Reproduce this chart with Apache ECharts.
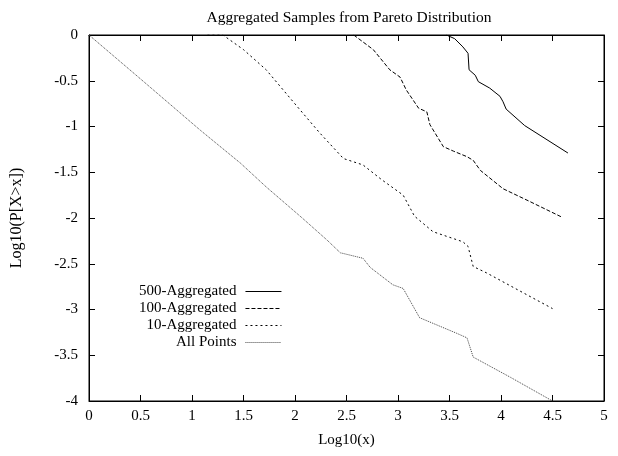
<!DOCTYPE html>
<html>
<head>
<meta charset="utf-8">
<script src="https://cdn.jsdelivr.net/npm/echarts@6/dist/echarts.min.js"></script>
<style>
  html, body { margin: 0; padding: 0; background: #fff; }
  #chart { width: 618px; height: 456px; }
</style>
</head>
<body>
<div id="chart"></div>
<script>
// Empirical tail distributions (log10 scale) of Pareto samples
const agg500X = [3.47, 3.55, 3.63, 3.68, 3.69, 3.75, 3.78, 3.89, 3.99, 4.02, 4.05, 4.23, 4.65];
const agg500Y = [0, -0.04, -0.13, -0.2, -0.38, -0.44, -0.51, -0.58, -0.67, -0.73, -0.81, -0.99, -1.29];

const agg100X = [2.57, 2.76, 2.92, 3.02, 3.08, 3.20, 3.28, 3.31, 3.44, 3.54, 3.67, 3.73, 3.80, 4.02, 4.28, 4.59];
const agg100Y = [0, -0.16, -0.38, -0.46, -0.60, -0.80, -0.84, -0.98, -1.22, -1.27, -1.33, -1.37, -1.48, -1.68, -1.82, -1.99];

const agg10X = [1.15, 1.30, 1.50, 1.72, 2.02, 2.24, 2.47, 2.66, 2.84, 3.05, 3.16, 3.34, 3.63, 3.68, 3.73, 3.86, 4.22, 4.5];
const agg10Y = [0, 0, -0.16, -0.38, -0.78, -1.07, -1.35, -1.42, -1.58, -1.75, -1.98, -2.15, -2.26, -2.31, -2.53, -2.60, -2.82, -2.99];

const allX = [0, 0.5, 1.08, 1.47, 1.72, 2.07, 2.31, 2.44, 2.66, 2.73, 2.95, 3.05, 3.21, 3.57, 3.67, 3.73, 4.09, 4.5];
const allY = [0, -0.48, -1.04, -1.40, -1.66, -2.0, -2.24, -2.38, -2.44, -2.54, -2.73, -2.77, -3.09, -3.26, -3.31, -3.52, -3.74, -4.0];

const seriesNames = ['500-Aggregated', '100-Aggregated', '10-Aggregated', 'All Points'];

const pairs = (xs, ys) => xs.map((x, i) => [x, ys[i]]);

const FONT = '"Liberation Serif", "DejaVu Serif", serif';

const lineStyles = [
  { color: '#000', width: 1, type: 'solid' },
  { color: '#000', width: 1, type: [4, 2] },
  { color: '#000', width: 1, type: [2, 3] },
  { color: '#444', width: 1, type: [1, 1] }
];

const datasets = [pairs(agg500X, agg500Y), pairs(agg100X, agg100Y), pairs(agg10X, agg10Y), pairs(allX, allY)];

const chart = echarts.init(document.getElementById('chart'), null, { renderer: 'canvas' });

const axisLineOpt = () => ({ show: true, onZero: false, lineStyle: { color: '#000', width: 1 } });
const tickOpt = () => ({ show: true, inside: true, length: 6, lineStyle: { color: '#000', width: 1 } });

chart.setOption({
  animation: false,
  backgroundColor: '#fff',
  title: {
    text: 'Aggregated Samples from Pareto Distribution',
    left: 344, textAlign: 'center', top: 5,
    textStyle: { fontFamily: FONT, fontSize: 15.5, fontWeight: 'normal', color: '#000' }
  },
  // plot frame
  grid: { left: 89, right: 14, top: 35, bottom: 55, show: true, borderColor: '#000', borderWidth: 1, backgroundColor: 'transparent' },
  legend: {
    data: seriesNames,
    orient: 'vertical',
    align: 'right',
    left: 134, top: 279,
    itemWidth: 36, itemHeight: 10, itemGap: 2,
    itemStyle: { opacity: 0 },
    lineStyle: { width: 1 },
    textStyle: { fontFamily: FONT, fontSize: 15, color: '#000', padding: [0, 4, 0, 0] }
  },
  xAxis: [
    {
      type: 'value', min: 0, max: 5, interval: 0.5,
      name: 'Log10(x)', nameLocation: 'middle', nameGap: 32,
      nameTextStyle: { fontFamily: FONT, fontSize: 15, color: '#000' },
      axisLine: axisLineOpt(), axisTick: tickOpt(),
      axisLabel: { fontFamily: FONT, fontSize: 15, color: '#000', margin: 8 },
      splitLine: { show: false }
    },
    {
      type: 'value', min: 0, max: 5, interval: 0.5, position: 'top',
      axisLine: axisLineOpt(), axisTick: tickOpt(),
      axisLabel: { show: false }, splitLine: { show: false }
    }
  ],
  yAxis: [
    {
      type: 'value', min: -4, max: 0, interval: 0.5,
      name: 'Log10(P[X>x])', nameLocation: 'middle', nameGap: 64, nameRotate: 90,
      nameTextStyle: { fontFamily: FONT, fontSize: 16, color: '#000' },
      axisLine: axisLineOpt(), axisTick: tickOpt(),
      axisLabel: { fontFamily: FONT, fontSize: 15, color: '#000', margin: 11 },
      splitLine: { show: false }
    },
    {
      type: 'value', min: -4, max: 0, interval: 0.5, position: 'right',
      axisLine: axisLineOpt(), axisTick: tickOpt(),
      axisLabel: { show: false }, splitLine: { show: false }
    }
  ],
  series: seriesNames.map((name, i) => ({
    name: name,
    type: 'line',
    data: datasets[i],
    symbol: 'none',
    showSymbol: false,
    lineStyle: lineStyles[i],
    itemStyle: { color: lineStyles[i].color },
    emphasis: { disabled: true }
  }))
});
</script>
</body>
</html>
